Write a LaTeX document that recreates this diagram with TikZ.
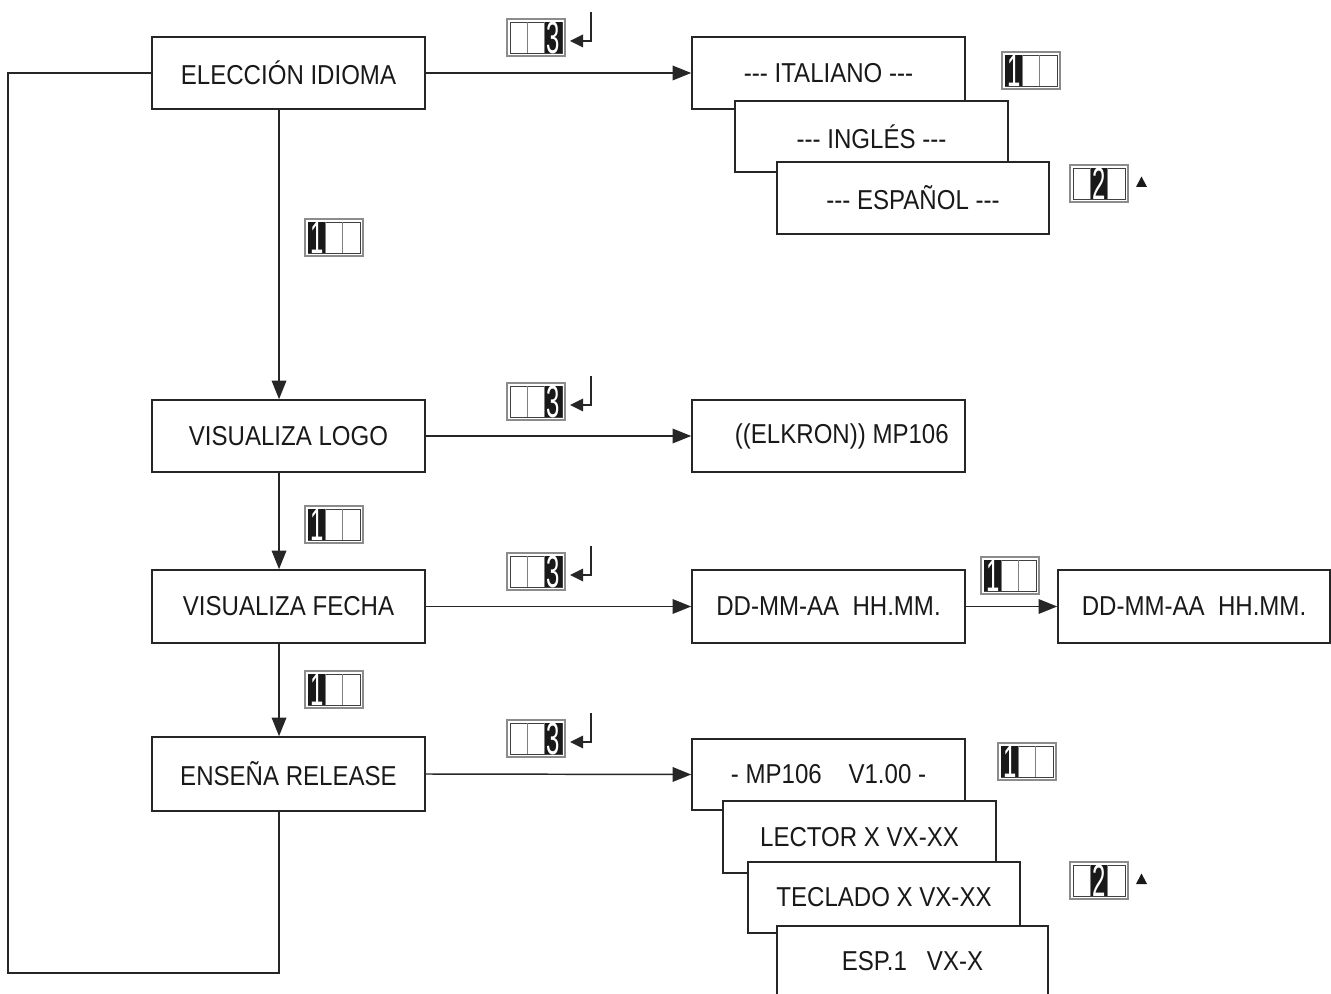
\documentclass[tikz,border=0pt]{standalone}
\usepackage{fontspec}
\setmainfont{Liberation Sans}[FakeStretch=0.88]
\usetikzlibrary{arrows.meta}
\tikzset{
  box/.style={draw=black!85, line width=1.2pt, fill=white, inner sep=0pt,
    font=\fontsize{20.5}{24}\selectfont, text=black!90},
  sz/.style 2 args={minimum width={#1*0.75pt}, minimum height={#2*0.75pt}},
  conn/.style={draw=black!85, line width=1.1pt, -{Triangle[length=14pt,width=11pt]}},
  loopline/.style={draw=black!85, line width=1.4pt},
  keydigit/.style={text=white, inner sep=0pt, font=\fontsize{34}{34}\selectfont},
}
% key icon: name, x, y (top-left), black cell index, digit
\newcommand\keyicon[5]{%
  \draw[black!45, line width=0.8pt] (#2,#3) rectangle ++(58,37);
  \draw[black!75, line width=0.6pt] (#2+3,#3+3) rectangle ++(52,31);
  \fill[black!90] (#2+3+#4*17.33,#3+3) rectangle ++(17.33,31);
  \draw[black!50, line width=0.6pt] (#2+20.33,#3+3) -- ++(0,31) (#2+37.67,#3+3) -- ++(0,31);
  \node[keydigit] (#1) at (#2+11.67+#4*17.33,#3+18.5) {\scalebox{0.6}[1]{#5}};
}
\newcommand\retarrow[2]{%
  \draw[black!85, line width=1.1pt] (#1+84,#2-7) -- (#1+84,#2+22) -- (#1+74,#2+22);
  \fill[black!85] (#1+63,#2+22) -- (#1+76,#2+15.5) -- (#1+76,#2+28.5) -- cycle;
}
\newcommand\uptri[2]{%
  \fill[black!90] (#1-5.5,#2+5) -- (#1+5.5,#2+5) -- (#1,#2-5.5) -- cycle;
}
\newcommand\dashes{-{}-{}-}
\begin{document}
\begin{tikzpicture}[x=0.75pt, y=-0.75pt]
\useasboundingbox (0,0) rectangle (1331,994);

% left column
\node[box, sz={273}{72}] (elec) at (288.5,73) {ELECCIÓN IDIOMA};
\node[box, sz={273}{72}] (logo) at (288.5,436) {VISUALIZA LOGO};
\node[box, sz={273}{73}] (fecha) at (288.5,606.5) {VISUALIZA FECHA};
\node[box, sz={273}{74}] (release) at (288.5,774) {ENSEÑA RELEASE};

% language stack
\node[box, sz={273}{72}] (ital) at (828.5,73) {\dashes{} ITALIANO \dashes};
\node[box, sz={273}{71}] (ingl) at (871.5,136.5) {\dashes{} INGLÉS \dashes};
\node[box, sz={272}{72}] (espa) at (913,198) {\dashes{} ESPAÑOL \dashes};

% logo
\node[box, sz={273}{72}] (elkron) at (828.5,436) {\raisebox{3pt}{\hspace*{20pt}((ELKRON)) MP106}};

% date
\node[box, sz={273}{73}] (dd1) at (828.5,606.5) {DD-MM-AA\ \ HH.MM.};
\node[box, sz={272}{73}] (dd2) at (1194,606.5) {DD-MM-AA\ \ HH.MM.};

% release stack
\node[box, sz={273}{71}] (mp) at (828.5,774.5) {- MP106\ \ \ \ V1.00 -};
\node[box, sz={273}{72}] (lector) at (859.5,837) {LECTOR X VX-XX};
\node[box, sz={272}{71}] (tecl) at (884,897.5) {TECLADO X VX-XX};
\node[box, sz={271}{70}] (esp1) at (912.5,961) {ESP.1\ \ \ VX-X};

% connectors
\draw[conn] (elec.east) -- (ital.west);
\draw[conn] (logo.east) -- (elkron.west);
\draw[conn] (fecha.east) -- (dd1.west);
\draw[conn] (dd1.east) -- (dd2.west);
\draw[conn] (release.east) -- (mp.west);
\draw[conn] ([xshift=-7.1pt]elec.south) -- ([xshift=-7.1pt]logo.north);
\draw[conn] ([xshift=-7.1pt]logo.south) -- ([xshift=-7.1pt]fecha.north);
\draw[conn] ([xshift=-7.1pt]fecha.south) -- ([xshift=-7.1pt]release.north);
\draw[loopline] (elec.west) -| (8,973) -| ([xshift=-7.1pt]release.south);

% key icons
\keyicon{k3a}{507}{19}{2}{3}\retarrow{507}{19}
\keyicon{k3b}{507}{383}{2}{3}\retarrow{507}{383}
\keyicon{k3c}{507}{553}{2}{3}\retarrow{507}{553}
\keyicon{k3d}{507}{720}{2}{3}\retarrow{507}{720}
\keyicon{k1a}{1002}{52}{0}{1}
\keyicon{k2a}{1070}{165}{1}{2}\uptri{1141.5}{182}
\keyicon{k1b}{305}{219}{0}{1}
\keyicon{k1c}{305}{506}{0}{1}
\keyicon{k1d}{981}{557}{0}{1}
\keyicon{k1e}{305}{671}{0}{1}
\keyicon{k1f}{998}{743}{0}{1}
\keyicon{k2b}{1070}{862}{1}{2}\uptri{1141.5}{879}
\end{tikzpicture}
\end{document}
